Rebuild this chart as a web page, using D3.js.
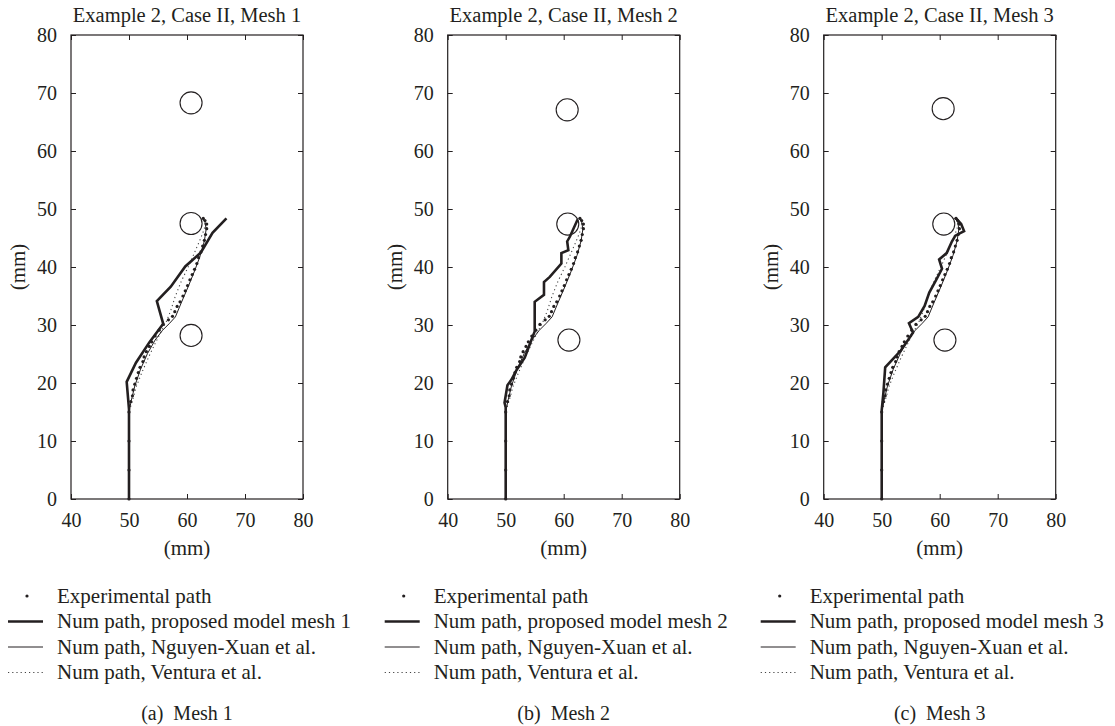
<!DOCTYPE html>
<html><head><meta charset="utf-8">
<script src="https://cdn.jsdelivr.net/npm/d3@7"></script>
<style>
body{margin:0;background:#fff;}
svg{display:block;}
text{font-family:"Liberation Serif","Times New Roman",serif;fill:#231f20;white-space:pre;}
</style></head>
<body>
<svg id="chart" width="1115" height="726"></svg>
<script>
// ---- data ----
const panelTitles = ["Example 2, Case II, Mesh 1","Example 2, Case II, Mesh 2","Example 2, Case II, Mesh 3"];
const captions = ["(a)  Mesh 1","(b)  Mesh 2","(c)  Mesh 3"];
const legendLabels = [
  ["Experimental path","Num path, proposed model mesh 1","Num path, Nguyen-Xuan et al.","Num path, Ventura et al."],
  ["Experimental path","Num path, proposed model mesh 2","Num path, Nguyen-Xuan et al.","Num path, Ventura et al."],
  ["Experimental path","Num path, proposed model mesh 3","Num path, Nguyen-Xuan et al.","Num path, Ventura et al."]
];
const xTicks = [40,50,60,70,80];
const yTicks = [0,10,20,30,40,50,60,70,80];
const holeRadius = 1.9;
const holes = [
  [[60.7,68.3],[60.7,47.5],[60.7,28.2]],
  [[60.6,67.1],[60.7,47.4],[60.9,27.4]],
  [[60.6,67.3],[60.7,47.4],[60.9,27.4]]
];
const experimental = [[50,0],[50,5],[50,10],[50,15],[50.3,16.8],[50.6,17.8],[50.7,18.8],[51.0,19.8],[51.3,20.8],[51.6,21.8],[51.9,22.7],[52.4,23.7],[52.6,24.5],[53.0,25.4],[53.5,26.3],[53.9,27.1],[54.5,28.1],[55.2,29.1],[55.9,30.1],[56.8,30.9],[57.5,31.5],[57.9,32.3],[58.3,33.2],[58.8,34.0],[59.3,35.0],[59.7,35.9],[60.1,36.8],[60.5,37.8],[60.9,38.7],[61.3,39.6],[61.7,40.6],[62.0,41.6],[62.4,42.6],[62.7,43.6],[63.0,44.6],[63.2,45.6],[63.4,46.6],[63.4,47.4],[63.1,48.0],[62.8,48.4]];
const nguyenXuan = [[50,0],[50,15],[50.4,17],[51.0,19.5],[52.0,22.4],[53.2,25.1],[54.5,27.4],[55.8,29.1],[57.0,30.3],[58.0,31.4],[59.0,33.8],[60.2,36.6],[61.3,39.3],[62.3,42.0],[63.0,44.5],[63.3,46.5],[63.1,47.8],[62.7,48.3]];
const ventura = [[50,0],[50,15],[50.6,17],[51.3,19.5],[52.3,22],[53.4,24.5],[54.6,27],[55.6,29],[56.4,30.5],[57.2,32.5],[58.0,35],[59.0,37.5],[60.2,40],[61.3,42.5],[62.3,44.8],[63.0,46.6],[63.1,47.8],[62.8,48.3]];
const proposedMesh1 = [[50,0],[50,15.5],[49.6,20.2],[51.2,23.5],[53.5,27],[55.9,30.2],[54.8,34.1],[57.2,36.6],[59.7,40.1],[62.4,42.5],[64.4,45.9],[66.8,48.4]];
const proposedMesh2 = [[50,0],[50,15.8],[49.8,16.6],[50.3,19.6],[51.0,20.6],[51.9,22.3],[53.3,24.4],[54.2,26.8],[55.0,28.9],[55.0,34.0],[56.6,35.2],[56.6,37.4],[57.6,38.3],[59.6,40.6],[59.6,42.4],[60.8,42.9],[60.6,44.4],[61.1,45.3],[62.4,48.2]];
const proposedMesh3 = [[50,0],[50,15.3],[50.3,18.4],[50.6,22.7],[52.0,24.2],[53.3,25.6],[54.6,27.5],[55.4,28.7],[54.7,30.3],[56.3,31.4],[57.4,33.3],[58.2,35.6],[59.3,37.6],[60.4,39.7],[59.9,41.3],[61.2,42.4],[62.1,44.4],[62.7,45.4],[64.2,46.2],[63.7,47.4],[62.7,48.5]];
const proposed = [proposedMesh1, proposedMesh2, proposedMesh3];

// ---- layout ----
const svg = d3.select("#chart");
const panelOffsets = [0, 376.7, 752.7];
const plotLeft = 71, plotW = 232, plotTop = 35, plotBottom = 499;
const ink = "#231f20";

panelOffsets.forEach((ox, i) => {
  const g = svg.append("g");
  const x = d3.scaleLinear().domain([40,80]).range([ox+plotLeft, ox+plotLeft+plotW]);
  const y = d3.scaleLinear().domain([0,80]).range([plotBottom, plotTop]);

  const ax = (sel) => { sel.select(".domain").remove(); sel.selectAll("line").attr("stroke", ink); };
  g.append("g").attr("transform",`translate(0,${plotBottom})`)
    .call(d3.axisBottom(x).tickValues(xTicks).tickSizeInner(-5).tickSizeOuter(0).tickPadding(14).tickFormat(d3.format("d")))
    .call(ax).selectAll("text").attr("font-size",20).attr("fill",ink).attr("font-family","Liberation Serif");
  g.append("g").attr("transform",`translate(0,${plotTop})`)
    .call(d3.axisTop(x).tickValues(xTicks).tickSizeInner(-5).tickSizeOuter(0).tickFormat(""))
    .call(ax);
  g.append("g").attr("transform",`translate(${ox+plotLeft},0)`)
    .call(d3.axisLeft(y).tickValues(yTicks).tickSizeInner(-5).tickSizeOuter(0).tickPadding(14).tickFormat(d3.format("d")))
    .call(ax).selectAll("text").attr("font-size",20).attr("fill",ink).attr("font-family","Liberation Serif");
  g.append("g").attr("transform",`translate(${ox+plotLeft+plotW},0)`)
    .call(d3.axisRight(y).tickValues(yTicks).tickSizeInner(-5).tickSizeOuter(0).tickFormat(""))
    .call(ax);
  g.append("rect").attr("x", x(40)).attr("y", y(80)).attr("width", x(80)-x(40)).attr("height", y(0)-y(80))
    .attr("fill","none").attr("stroke", ink).attr("stroke-width",1.2);

  g.append("text").attr("x", (x(40)+x(80))/2).attr("y", 22).attr("text-anchor","middle").attr("font-size",20.5).text(panelTitles[i]);
  g.append("text").attr("x", (x(40)+x(80))/2).attr("y", 555).attr("text-anchor","middle").attr("font-size",21).text("(mm)");
  g.append("text").attr("transform",`translate(${ox+25},${(y(0)+y(80))/2}) rotate(-90)`).attr("text-anchor","middle").attr("font-size",21).text("(mm)");

  g.selectAll(".hole").data(holes[i]).join("ellipse")
    .attr("cx", d => x(d[0])).attr("cy", d => y(d[1]))
    .attr("rx", d => x(d[0]+holeRadius)-x(d[0])).attr("ry", d => y(d[1]-holeRadius)-y(d[1]))
    .attr("fill","none").attr("stroke", ink).attr("stroke-width",1.1);

  const line = d3.line().x(d => x(d[0])).y(d => y(d[1]));
  g.append("path").attr("d", line(ventura)).attr("fill","none").attr("stroke", "#444").attr("stroke-width",1.1).attr("stroke-dasharray","1.2,3");
  g.append("path").attr("d", line(nguyenXuan)).attr("fill","none").attr("stroke", ink).attr("stroke-width",1);
  g.append("path").attr("d", line(proposed[i])).attr("fill","none").attr("stroke", ink).attr("stroke-width",2.6).attr("stroke-linejoin","miter");
  g.selectAll(".exp").data(experimental).join("circle")
    .attr("cx", d => x(d[0])).attr("cy", d => y(d[1])).attr("r",1.6).attr("fill", ink);

  const rows = [596, 621.5, 647, 672.5];
  const lg = g.append("g");
  lg.append("circle").attr("cx", ox+27).attr("cy", rows[0]).attr("r",1.6).attr("fill", ink);
  lg.append("line").attr("x1", ox+8).attr("x2", ox+43).attr("y1", rows[1]).attr("y2", rows[1]).attr("stroke", ink).attr("stroke-width",2.6);
  lg.append("line").attr("x1", ox+8).attr("x2", ox+43).attr("y1", rows[2]).attr("y2", rows[2]).attr("stroke", ink).attr("stroke-width",1);
  lg.append("line").attr("x1", ox+8).attr("x2", ox+43).attr("y1", rows[3]).attr("y2", rows[3]).attr("stroke", "#444").attr("stroke-width",1.1).attr("stroke-dasharray","1.2,3");
  legendLabels[i].forEach((t, k) => {
    lg.append("text").attr("x", ox+57).attr("y", rows[k]+6.5).attr("font-size",21).text(t);
  });
  g.append("text").attr("x", (x(40)+x(80))/2).attr("y", 720).attr("text-anchor","middle").attr("font-size",20).text(captions[i]);
});
</script>
</body></html>
